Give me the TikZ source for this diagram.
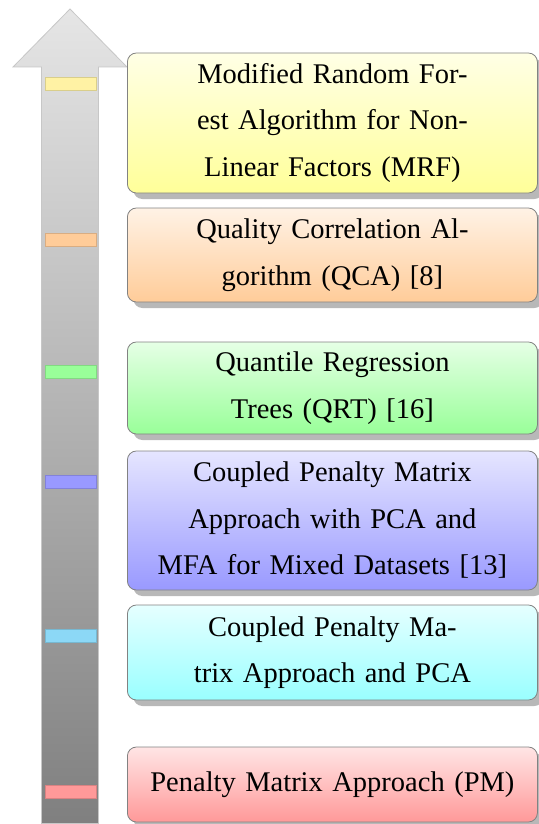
\documentclass[tikz,border=0pt]{standalone}
\usepackage{fontspec}
\setmainfont{Liberation Serif}
\usetikzlibrary{shadows}

\definecolor{markyellow}{RGB}{255,242,164}
\definecolor{markorange}{RGB}{255,204,153}
\definecolor{markgreen}{RGB}{153,255,153}
\definecolor{markblue}{RGB}{153,153,255}
\definecolor{markcyan}{RGB}{140,216,246}
\definecolor{markred}{RGB}{255,153,153}
\definecolor{boxedge}{RGB}{130,130,130}

\tikzset{
  stage/.style={
    draw=boxedge, line width=0.8pt, rounded corners=9pt,
    minimum width=410pt, text width=400pt, align=center,
    inner sep=0pt, anchor=west,
    font=\fontsize{28.5}{46.5}\selectfont,
    top color=#1!10, bottom color=#1!40,
    drop shadow={shadow xshift=6pt, shadow yshift=-6pt, opacity=0.28, fill=black}
  },
  tick/.style={
    draw=#1!85!black, line width=0.4pt, fill=#1,
    minimum width=51pt, minimum height=13pt, inner sep=0pt
  }
}

\begin{document}
\begin{tikzpicture}[x=1pt, y=-1pt]
  \useasboundingbox (0,0) rectangle (538,824);

  % upward timeline arrow
  \draw[draw=black!22, line width=0.8pt, top color=black!10, bottom color=black!50]
    (70,9) -- (127,67) -- (98.5,67) -- (98.5,823.5) -- (41.5,823.5)
    -- (41.5,67) -- (13,67) -- cycle;

  % colour ticks on the arrow shaft
  \node[tick=markyellow] (t1) at (70.5,83.5) {};
  \node[tick=markorange] (t2) at (70.5,239.5) {};
  \node[tick=markgreen]  (t3) at (70.5,372) {};
  \node[tick=markblue]   (t4) at (70.5,481.5) {};
  \node[tick=markcyan]   (t5) at (70.5,636) {};
  \node[tick=markred]    (t6) at (70.5,791.5) {};

  % method boxes, newest on top
  \node[stage=yellow, minimum height=140pt] (mrf) at (127,123)
    {Modified Random For-\\est Algorithm for Non-\\Linear Factors (MRF)};
  \node[stage=orange, minimum height=94pt] (qca) at (127,255)
    {Quality Correlation Al-\\gorithm (QCA) [8]};
  \node[stage=green, minimum height=92pt] (qrt) at (127,388)
    {Quantile Regression\\Trees (QRT) [16]};
  \node[stage=blue, minimum height=139pt] (cpm) at (127,520.5)
    {Coupled Penalty Matrix\\Approach with PCA and\\MFA for Mixed Datasets [13]};
  \node[stage=cyan, minimum height=95pt] (cpp) at (127,652.5)
    {Coupled Penalty Ma-\\trix Approach and PCA};
  \node[stage=red, minimum height=75pt] (pm) at (127,784.5)
    {Penalty Matrix Approach (PM)};
\end{tikzpicture}
\end{document}
